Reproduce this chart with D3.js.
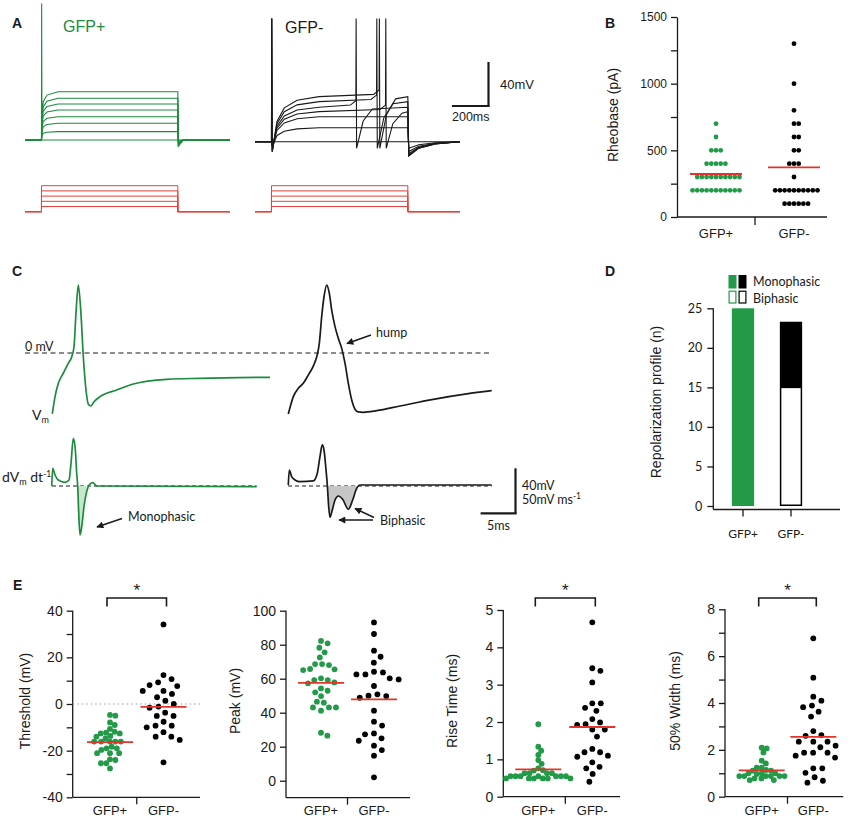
<!DOCTYPE html>
<html>
<head>
<meta charset="utf-8">
<script src="https://cdn.jsdelivr.net/npm/d3@7"></script>
<style>
  body { margin: 0; background: #fff; }
  svg { display: block; }
</style>
</head>
<body>
<svg id="fig" width="850" height="821"></svg>
<script>
var groups = ["GFP+", "GFP-"];

// ---- A: current steps (ms / pA) and voltage responses (mV above rest)
var stepOn = 90, stepOff = 835, sweepEnd = 1120;
var stimLevels = [100, 200, 300, 400, 500];
var posLevels = [0, 7.6, 15.2, 21.2, 27.3, 32.7, 37.9, 43.9];
var posCharge = [[3, 0.55], [10, 0.8], [30, 0.93], [90, 1]];
var negLevels = [0, 12.7, 22.7, 27.3, 31.3, 36.4, 41];
var negCharge = [[30, 0.45], [70, 0.75], [140, 0.92], [260, 1]];
var negSpikes = [[], [], [], [713], [551], [664], [678]];
var negOnsetSpike = [false, false, false, false, true, true, true];
var negOffDip = [0, -6, -9, -11, -12, -13, -13];

// ---- B: rheobase (pA)
var rheoPos = [700, 600, 500, 500, 500, 400, 400, 400, 400, 400,
  300, 300, 300, 300, 300, 300, 300, 300, 300, 300,
  200, 200, 200, 200, 200, 200, 200, 200, 200, 200, 200];
var rheoNeg = [1300, 1000, 800, 700, 700, 600, 600, 500, 500, 400, 400, 400, 300,
  200, 200, 200, 200, 200, 200, 200, 200, 200, 200,
  100, 100, 100, 100, 100, 100];

// ---- C: example action potentials (ms, mV) and dV/dt (ms, mV/ms)
var vmPos = [[0.04,-54.2],[0.42,-38.8],[0.88,-26.9],[1.57,-18],[2.26,-9.2],[2.74,-3.3],[3.06,5.6],[3.33,35.2],
  [3.65,60.4],[3.99,38.2],[4.35,-3.3],[4.72,-32.9],[5.04,-45.3],[5.38,-47.1],[5.83,-43.3],[6.67,-38.8],
  [8.99,-32.9],[11.29,-27.6],[15.93,-23.4],[20.56,-22.5],[30.28,-21.6]];
var vmNeg = [[0.04,-54.2],[0.38,-46.2],[0.74,-38.8],[1.43,-31.4],[2.13,-26.9],[2.82,-19.6],[3.51,-11.6],[3.99,-3.3],
  [4.35,8.6],[4.68,32.3],[5,50],[5.38,60.4],[5.74,53],[6.07,38.2],[6.53,23.4],[6.99,13],[7.46,4.1],[7.92,-9.2],
  [8.38,-27],[8.85,-41.8],[9.31,-50],[9.76,-52.4],[10.46,-52.7],[12.32,-51.3],[15.56,-47.1],[20.18,-41.2],
  [24.82,-36.4],[28.29,-33.5]];
var dvPos = [[-0.04,0],[0.1,19.6],[0.42,12.2],[0.88,6.7],[1.81,4.1],[2.36,6.7],[2.64,25.2],[2.96,53],[3.24,40],
  [3.43,14.1],[3.57,0],[3.71,-30.3],[3.89,-54.4],[4.13,-45.2],[4.44,-23],[4.82,-6.3],[5.28,2.2],[5.65,3.7],
  [6.21,0],[28.43,-0.7]];
var dvNeg = [[0.04,1.1],[0.18,17.8],[0.51,10.3],[0.97,6.7],[1.67,4.8],[3.51,5.6],[4.07,14.1],[4.44,32.6],[4.76,45.6],
  [5,40],[5.24,21.4],[5.46,1.1],[5.65,-23],[5.83,-34.8],[6.15,-26.7],[6.53,-15.6],[6.99,-11.1],[7.59,-14.8],
  [8.38,-25.9],[8.98,-15.6],[9.54,-2.6],[10,1.1],[28.29,1.1]];

// ---- D: repolarization profile counts
var repolBi = [0, 15];
var repolMono = [25, 8.3];

// ---- E: AP properties
var thresholdPos = [-4.7,-5,-7.9,-9,-10.7,-11.9,-12.3,-12.6,-12.6,-13.7,-14,-14.7,-16.1,-16.1,-16.1,-16.1,-16.1,
  -18.3,-19,-19,-19.7,-21.1,-21.1,-21.1,-23.7,-24,-25.4,-25.4,-27.6];
var thresholdNeg = [34.1,12.4,10.7,9.3,8.1,7.7,5.6,5.6,4.3,2.9,1.4,0,-1.1,-1.6,-3.7,-5.1,-5.1,-7.6,-9.3,-9.3,-10,
  -12.1,-14,-14,-15.4,-25];
var peakPos = [82.2,80.8,78.2,75.5,72.5,68.6,68.6,68,65.7,65.5,65.1,60.2,59.2,59.2,57.8,57.3,54.3,52.9,52,49.8,
  46.5,45.9,43.1,43.1,43.1,41.2,28.2,26.5];
var peakNeg = [93.1,86.3,76.5,72.9,69.4,64.1,63.7,62.5,62.5,60.2,59.6,55.7,50.8,50,49.8,48.8,41.2,34.7,32.4,27.8,
  27.3,24.9,23.5,20.6,18,14.7,2];
var risePos = [1.94,1.34,1.23,1.12,0.98,0.88,0.76,0.71,0.7,0.63,0.63,0.63,0.63,0.55,0.55,0.55,0.55,0.55,0.55,0.55,
  0.49,0.49,0.49,0.49,0.49,0.49];
var riseNeg = [4.67,3.44,3.37,3.06,2.5,2.5,2.38,2.3,2.08,1.99,1.94,1.92,1.8,1.8,1.61,1.28,1.19,1.19,1.1,1.07,0.92,
  0.8,0.76,0.61,0.4];
var widthPos = [2.09,2.06,1.89,1.54,1.42,1.24,1.24,1.14,1.11,1.11,1,1,1,0.97,0.88,0.88,0.88,0.88,0.88,0.88,
  0.78,0.78,0.71,0.71];
var widthNeg = [6.76,5.08,4.27,4.1,3.89,3.82,3.63,3.42,2.8,2.63,2.6,2.35,2.35,2.35,2.18,2.11,1.88,1.88,1.88,1.75,
  1.67,1.21,1.21,1.02,0.83,0.68,0.6];

var ARIAL = "'Liberation Sans', Arial, sans-serif";
var MYR = "Lato, 'Open Sans', sans-serif";
var GREEN = "#229a48", TGREEN = "#1b8c3e", RED = "#e3342b", INK = "#1a1a1a";

var svg = d3.select("#fig");

var defs = svg.append("defs");
defs.append("marker").attr("id", "arr")
  .attr("viewBox", "0 0 10 10").attr("refX", 9).attr("refY", 5)
  .attr("markerWidth", 9).attr("markerHeight", 7)
  .attr("markerUnits", "userSpaceOnUse").attr("orient", "auto")
  .append("path").attr("d", "M0,0L10,5L0,10z").attr("fill", INK);

function label(x, y, s, size, opt) {
  opt = opt || {};
  return svg.append("text").attr("x", x).attr("y", y)
    .attr("font-family", opt.family || ARIAL)
    .attr("font-size", size)
    .attr("font-weight", opt.bold ? "bold" : null)
    .attr("text-anchor", opt.anchor || "start")
    .attr("fill", opt.fill || INK)
    .text(s);
}
function vlabel(x, y, s, size, family) {
  svg.append("text")
    .attr("transform", "translate(" + x + "," + y + ") rotate(-90)")
    .attr("text-anchor", "middle")
    .attr("font-family", family || ARIAL)
    .attr("font-size", size).attr("fill", INK).text(s);
}
function seg(x1, y1, x2, y2, w, col) {
  return svg.append("line").attr("x1", x1).attr("y1", y1).attr("x2", x2).attr("y2", y2)
    .attr("stroke", col || INK).attr("stroke-width", w || 1.3);
}

// panel letters
label(12, 28, "A", 14, {bold: true});
label(605, 28, "B", 14, {bold: true});
label(12, 276, "C", 14, {bold: true});
label(605, 276, "D", 14, {bold: true});
label(13, 590, "E", 14, {bold: true});

// ================= A =================
var xAP = d3.scaleLinear().domain([0, sweepEnd]).range([25, 230]);
var xAN = d3.scaleLinear().domain([0, sweepEnd]).range([255, 460]);
var yAP = d3.scaleLinear().domain([0, 40]).range([140, 96]);
var yAN = d3.scaleLinear().domain([0, 40]).range([141.7, 97.7]);
var yStim = d3.scaleLinear().domain([0, 500]).range([211.7, 185.7]);

function posSweep(L, i) {
  var p = [[0, 0], [stepOn, 0]];
  if (i === posLevels.length - 1) { p.push([stepOn + 1, 124], [stepOn + 2.5, L * 0.5]); }
  posCharge.forEach(function (c) { p.push([stepOn + c[0], c[1] * L]); });
  p.push([stepOff, L], [stepOff + 3, -L * 0.13], [stepOff + 30, 0], [sweepEnd, 0]);
  return p;
}
function negSweep(L, i) {
  var p = [[0, 0], [stepOn, 0]];
  if (negOnsetSpike[i]) p.push([stepOn + 1.5, 112], [stepOn + 4, -9]);
  else if (L > 0) p.push([stepOn + 5, -4]);
  negCharge.forEach(function (c) { p.push([stepOn + c[0], c[1] * L]); });
  negSpikes[i].forEach(function (s) {
    p.push([s - 30, L + 2], [s, L + 6], [s + 1.5, 112], [s + 4, -6], [s + 40, L * 0.6], [s + 90, L * 0.95]);
  });
  var dip = negOffDip[i];
  p.push([stepOff, L], [stepOff + 5, dip], [stepOff + 60, dip * 0.45], [stepOff + 150, dip * 0.15], [sweepEnd, 0]);
  return p;
}

var lineAP = d3.line().x(function (d) { return xAP(d[0]); }).y(function (d) { return yAP(d[1]); });
var lineAN = d3.line().x(function (d) { return xAN(d[0]); }).y(function (d) { return yAN(d[1]); });

svg.append("g").selectAll("path").data(posLevels).join("path")
  .attr("d", function (L, i) { return lineAP(posSweep(L, i)); })
  .attr("fill", "none").attr("stroke", TGREEN).attr("stroke-width", 1.1);
svg.append("g").selectAll("path").data(negLevels).join("path")
  .attr("d", function (L, i) { return lineAN(negSweep(L, i)); })
  .attr("fill", "none").attr("stroke", INK).attr("stroke-width", 1.1);

function stimPath(xs) {
  var ln = d3.line().x(function (d) { return xs(d[0]); }).y(function (d) { return yStim(d[1]); });
  return function (L) {
    return ln([[0, 0], [stepOn, 0], [stepOn, L], [stepOff, L], [stepOff, 0], [sweepEnd, 0]]);
  };
}
[xAP, xAN].forEach(function (xs) {
  svg.append("g").selectAll("path").data(stimLevels).join("path")
    .attr("d", stimPath(xs))
    .attr("fill", "none").attr("stroke", "#e8403a").attr("stroke-width", 1);
});

label(63, 32, "GFP+", 16, {fill: TGREEN});
label(285, 33, "GFP-", 16);

// scale bar
var sbx = 488.5, sby = 106;
seg(sbx, sby, sbx, sby - (yAP(0) - yAP(40)), 2.2);
seg(sbx - (xAP(200) - xAP(0)), sby, sbx + 1.1, sby, 2.2);
label(500, 89, "40mV", 13);
label(452, 121, "200ms", 12.5);

// ================= B =================
var yB = d3.scaleLinear().domain([0, 1500]).range([217, 17]);
var xB = d3.scalePoint().domain(groups).range([677, 833]).padding(0.5);

var axB = svg.append("g").attr("transform", "translate(677,0)")
  .call(d3.axisLeft(yB).tickValues([0, 250, 500, 750, 1000, 1250, 1500])
    .tickSize(6).tickSizeOuter(0).tickPadding(4)
    .tickFormat(function (d) { return d % 500 === 0 ? d : ""; }));
axB.selectAll("text").attr("font-family", ARIAL).attr("font-size", 12).attr("fill", INK);
axB.selectAll("line,path").attr("stroke", INK).attr("stroke-width", 1.3);
seg(677, 217, 827, 217);
var midB = (xB("GFP+") + xB("GFP-")) / 2;
seg(midB, 217, midB, 225);
groups.forEach(function (g) { label(xB(g), 238, g, 13, {anchor: "middle"}); });
vlabel(618, 115, "Rheobase (pA)", 14);

function beeswarm(values, y, cx, d) {
  var pts = values.map(function (v) { return {v: v, y: y(v)}; })
    .sort(function (a, b) { return a.y - b.y; });
  var placed = [];
  pts.forEach(function (p) {
    var cands = [0];
    placed.forEach(function (q) {
      var dy = Math.abs(q.y - p.y);
      if (dy < d) { var dx = Math.sqrt(d * d - dy * dy); cands.push(q.dx + dx, q.dx - dx); }
    });
    cands.sort(function (a, b) { return (Math.abs(a) - Math.abs(b)) || (b - a); });
    for (var i = 0; i < cands.length; i++) {
      var c = cands[i];
      var ok = placed.every(function (q) {
        var ddx = q.dx - c, ddy = q.y - p.y;
        return ddx * ddx + ddy * ddy >= d * d - 0.01;
      });
      if (ok) { p.dx = c; break; }
    }
    placed.push(p);
  });
  return placed.map(function (p) { return {x: cx + p.dx, y: p.y, v: p.v}; });
}

function dots(vals, y, cx, d, r, col) {
  svg.append("g").selectAll("circle").data(beeswarm(vals, y, cx, d)).join("circle")
    .attr("cx", function (p) { return p.x; }).attr("cy", function (p) { return p.y; })
    .attr("r", r).attr("fill", col);
}
function meanLine(vals, y, cx, half) {
  var m = d3.mean(vals);
  seg(cx - half, y(m), cx + half, y(m), 1.8, RED);
}

dots(rheoPos, yB, xB("GFP+"), 4.7, 2.4, GREEN);
dots(rheoNeg, yB, xB("GFP-"), 4.7, 2.4, "#000");
meanLine(rheoPos, yB, xB("GFP+"), 26);
meanLine(rheoNeg, yB, xB("GFP-"), 26);

// ================= C =================
var xC = [d3.scaleLinear().domain([0, 30]).range([52, 268]),
          d3.scaleLinear().domain([0, 30]).range([288, 504])];
var yVm = d3.scaleLinear().domain([0, 40]).range([353, 308]);
var yDv = d3.scaleLinear().domain([0, 50]).range([486, 441]);

seg(25, yVm(0), 492, yVm(0), 1.2).attr("stroke-dasharray", "5,3.5");
seg(xC[0](0), yDv(0), xC[0](28.4), yDv(0), 1.1).attr("stroke-dasharray", "4,3");
seg(xC[1](0), yDv(0), xC[1](28.3), yDv(0), 1.1).attr("stroke-dasharray", "4,3");

function fillNeg(data, xs, t0, t1, col) {
  var sub = data.filter(function (d) { return d[0] >= t0 && d[0] <= t1; });
  svg.append("path").datum(sub)
    .attr("d", d3.area().curve(d3.curveMonotoneX)
      .x(function (d) { return xs(d[0]); })
      .y0(yDv(0))
      .y1(function (d) { return yDv(Math.min(d[1], 0)); }))
    .attr("fill", col);
}
fillNeg(dvPos, xC[0], 3.57, 5.28, "#c9e6cd");
fillNeg(dvNeg, xC[1], 5.46, 10, "#c6c6c6");

function trace(data, xs, ys, col) {
  svg.append("path").datum(data)
    .attr("d", d3.line().curve(d3.curveMonotoneX)
      .x(function (d) { return xs(d[0]); }).y(function (d) { return ys(d[1]); }))
    .attr("fill", "none").attr("stroke", col).attr("stroke-width", 1.7)
    .attr("stroke-linejoin", "round");
}
trace(vmPos, xC[0], yVm, TGREEN);
trace(vmNeg, xC[1], yVm, INK);
trace(dvPos, xC[0], yDv, TGREEN);
trace(dvNeg, xC[1], yDv, INK);

label(25, 351, "0 mV", 12.5, {family: MYR});
var vmT = label(32, 420, "V", 14, {family: MYR});
vmT.append("tspan").attr("font-size", 9).attr("dy", 3).text("m");
var dvT = label(2, 482, "dV", 14, {family: MYR});
dvT.append("tspan").attr("font-size", 9).attr("dy", 3).text("m");
dvT.append("tspan").attr("dy", -3).text(" dt");
dvT.append("tspan").attr("font-size", 8.5).attr("dy", -5).text("-1");

label(376, 337, "hump", 12.5, {family: MYR});
seg(371, 335, 347, 343.5, 1.5).attr("marker-end", "url(#arr)");
label(128, 521, "Monophasic", 12.5, {family: MYR});
seg(122, 518.5, 97, 527, 1.5).attr("marker-end", "url(#arr)");
label(380, 525, "Biphasic", 12.5, {family: MYR});
seg(373, 520, 339, 520, 1.5).attr("marker-end", "url(#arr)");
seg(374, 517.5, 355, 508.5, 1.5).attr("marker-end", "url(#arr)");

// C scale bar
seg(515.5, 513.3, 515.5, 513.3 - (yVm(0) - yVm(40)), 2.2);
seg(515.5 + 1.1 - (xC[0](5) - xC[0](0)), 513.3, 516.6, 513.3, 2.2);
label(522, 490, "40mV", 12.5, {family: MYR});
var msT = label(522, 504, "50mV ms", 12.5, {family: MYR});
msT.append("tspan").attr("font-size", 8.5).attr("dy", -5).text("-1");
label(487, 530, "5ms", 12.5, {family: MYR});

// ================= D =================
var yD = d3.scaleLinear().domain([0, 25]).range([506, 308.3]);
var xD = d3.scalePoint().domain(groups).range([743, 791]);
var barW = 22.3;

var axD = svg.append("g").attr("transform", "translate(713.3,0)")
  .call(d3.axisLeft(yD).tickValues([0, 5, 10, 15, 20, 25]).tickSize(6).tickSizeOuter(0).tickPadding(5));
axD.select(".domain").remove();
axD.selectAll("text").attr("font-family", MYR).attr("font-size", 12.5).attr("fill", INK);
axD.selectAll("line").attr("stroke", INK).attr("stroke-width", 1.3);
seg(713.3, 308.3, 713.3, 509.5);
seg(713.3, 509.5, 840, 509.5);
groups.forEach(function (g) {
  seg(xD(g), 509.5, xD(g), 516.5);
  label(xD(g), 538, g, 12, {family: MYR, anchor: "middle"});
});
vlabel(661, 402, "Repolarization profile (n)", 14);

var monoCol = [GREEN, "#000"];
groups.forEach(function (g, i) {
  if (repolBi[i] > 0) {
    svg.append("rect").attr("x", xD(g) - barW / 2 + 0.75).attr("y", yD(repolBi[i]))
      .attr("width", barW - 1.5).attr("height", yD(0) - yD(repolBi[i]) - 0.75)
      .attr("fill", "#fff").attr("stroke", monoCol[i]).attr("stroke-width", 1.5);
  }
  svg.append("rect").attr("x", xD(g) - barW / 2).attr("y", yD(repolBi[i] + repolMono[i]))
    .attr("width", barW).attr("height", yD(repolBi[i]) - yD(repolBi[i] + repolMono[i]))
    .attr("fill", monoCol[i]);
});
// legend
[0, 1].forEach(function (i) {
  var lx = 728.5 + i * 10;
  svg.append("rect").attr("x", lx).attr("y", 275).attr("width", 8).attr("height", 13.5).attr("fill", monoCol[i]);
  svg.append("rect").attr("x", lx + 0.6).attr("y", 291.2).attr("width", 6.8).attr("height", 11.8)
    .attr("fill", "#fff").attr("stroke", monoCol[i]).attr("stroke-width", 1.2);
});
label(753, 286, "Monophasic", 12.5, {family: MYR});
label(753, 302.5, "Biphasic", 12.5, {family: MYR});

// ================= E =================
var panelsE = [
  {left: 72.7, right: 200, top: 610.7, bottom: 797.3, domain: [-40, 40], major: [-40, -20, 0, 20, 40],
   minor: [-30, -10, 10, 30], centers: [110, 163.5], title: "Threshold (mV)", tx: 29.5,
   pos: thresholdPos, neg: thresholdNeg, dPos: 5.4, dNeg: 9, star: true, zero: true},
  {left: 286, right: 410, top: 610.7, bottom: 797.7, domain: [-10, 100], yTop: 100,
   major: [0, 20, 40, 60, 80, 100], minor: [], centers: [321, 374], title: "Peak (mV)", tx: 239.5,
   pos: peakPos, neg: peakNeg, dPos: 7, dNeg: 9, star: false},
  {left: 503.3, right: 620, top: 610, bottom: 796.7, domain: [0, 5], major: [0, 1, 2, 3, 4, 5],
   minor: [], centers: [538.3, 592.3], title: "Rise Time (ms)", tx: 456.5,
   pos: risePos, neg: riseNeg, dPos: 5, dNeg: 8.5, star: true},
  {left: 725, right: 843.3, top: 609.3, bottom: 796.7, domain: [0, 8], major: [0, 2, 4, 6, 8],
   minor: [1, 3, 5, 7], centers: [761.7, 813.3], title: "50% Width (ms)", tx: 680,
   pos: widthPos, neg: widthNeg, dPos: 5, dNeg: 9, star: true}
];

panelsE.forEach(function (P) {
  var y;
  if (P.yTop !== undefined) {
    // axis starts below zero: 0..100 spans 780.7..610.7
    y = d3.scaleLinear().domain([0, 100]).range([780.7, 610.7]);
  } else {
    y = d3.scaleLinear().domain(P.domain).range([P.bottom, P.top]);
  }
  var x = d3.scalePoint().domain(groups).range(P.centers);

  var ax = svg.append("g").attr("transform", "translate(" + P.left + ",0)")
    .call(d3.axisLeft(y).tickValues(P.major.concat(P.minor)).tickSize(6).tickSizeOuter(0).tickPadding(4)
      .tickFormat(function (d) { return P.major.indexOf(d) >= 0 ? d : ""; }));
  ax.select(".domain").remove();
  ax.selectAll("text").attr("font-family", ARIAL).attr("font-size", 14).attr("fill", INK);
  ax.selectAll("line").attr("stroke", INK).attr("stroke-width", 1.3);
  seg(P.left, P.top, P.left, P.bottom);
  seg(P.left, P.bottom, P.right, P.bottom);
  var mid = (x("GFP+") + x("GFP-")) / 2;
  seg(mid, P.bottom, mid, P.bottom + 7);
  groups.forEach(function (g) { label(x(g), 815, g, 13, {anchor: "middle"}); });
  vlabel(P.tx, 701, P.title, 14);

  if (P.zero) {
    seg(P.left, y(0), P.right, y(0), 1.2).attr("stroke", "#9a9a9a").attr("stroke-dasharray", "1.5,3");
  }
  if (P.star) {
    var bx1 = x("GFP+") - 3, bx2 = x("GFP-") + 3, by = 598;
    svg.append("path").attr("d", "M" + bx1 + "," + (by + 8.5) + "V" + by + "H" + bx2 + "V" + (by + 8.5))
      .attr("fill", "none").attr("stroke", INK).attr("stroke-width", 1.6);
    label((bx1 + bx2) / 2, 596, "*", 17, {anchor: "middle"});
  }

  dots(P.pos, y, x("GFP+"), P.dPos, 2.9, GREEN);
  dots(P.neg, y, x("GFP-"), P.dNeg, 2.9, "#000");
  meanLine(P.pos, y, x("GFP+"), 23);
  meanLine(P.neg, y, x("GFP-"), 23);
});
</script>
</body>
</html>
